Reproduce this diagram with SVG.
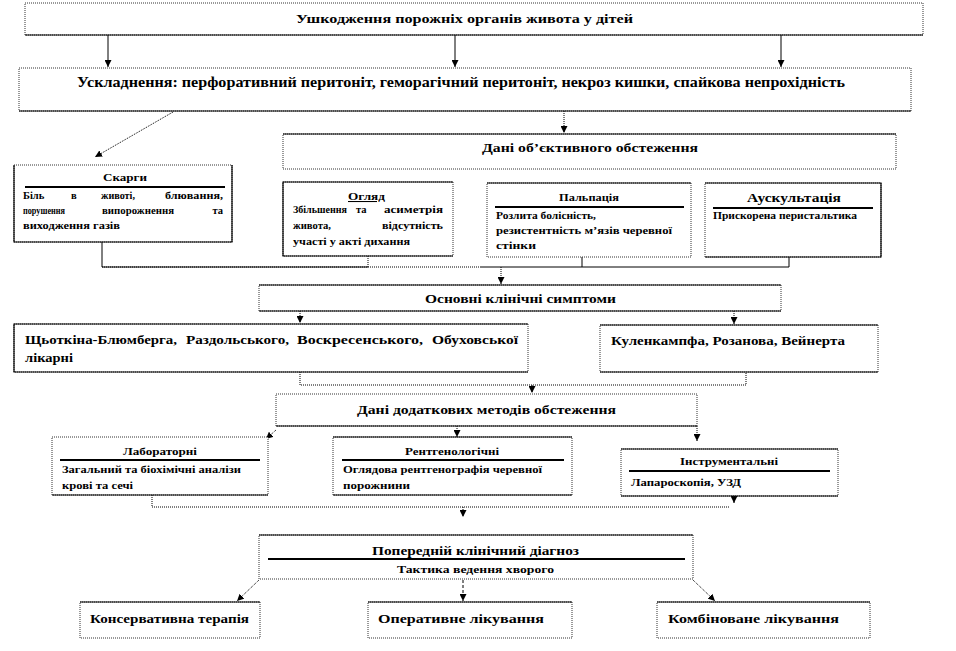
<svg xmlns="http://www.w3.org/2000/svg" width="956" height="651" viewBox="0 0 956 651">
<style>
.bx{fill:#fff;stroke:#333;stroke-width:1;stroke-dasharray:1 1}
.sd{fill:none;stroke:#000;stroke-width:1.2}
.rl{stroke:#000;stroke-width:2}
.t{font-family:"Liberation Serif","Times New Roman",serif;font-weight:bold;fill:#000}
.f14{font-size:14px}.f13{font-size:13px}.f12{font-size:12px}.f11{font-size:11px}.f10{font-size:10.5px}
.c{fill:none;stroke:#000;stroke-width:1}
.cd{fill:none;stroke:#000;stroke-width:1;stroke-dasharray:1 1}
.cs{fill:none;stroke:#000;stroke-width:1;stroke-dasharray:3 2}
</style>
<defs>
<marker id="ah" viewBox="0 0 8 8" refX="8" refY="4" markerWidth="7" markerHeight="7" markerUnits="userSpaceOnUse" orient="auto">
<path d="M0,0 L8,4 L0,8 z" fill="#000"/>
</marker>
</defs>
<rect width="956" height="651" fill="#fff"/>

<g id="connectors">
<line class="c" x1="108" y1="35" x2="108" y2="67" marker-end="url(#ah)"/>
<line class="c" x1="455" y1="35" x2="455" y2="67" marker-end="url(#ah)"/>
<line class="c" x1="781" y1="35" x2="781" y2="67" marker-end="url(#ah)"/>
<line class="cd" x1="173" y1="112" x2="95" y2="157" marker-end="url(#ah)"/>
<line class="cd" x1="564" y1="111" x2="564" y2="133" marker-end="url(#ah)"/>
<polyline class="c" points="102,242 102,267 368,267"/>
<polyline class="cd" points="102,267 480,267"/>
<polyline class="c" points="480,267 789,267 789,257"/>
<line class="cd" x1="368" y1="256" x2="368" y2="267"/>
<line class="c" x1="582" y1="257" x2="582" y2="267"/>
<line class="cd" x1="501" y1="267" x2="501" y2="284" marker-end="url(#ah)"/>
<line class="cd" x1="300" y1="311" x2="300" y2="323" marker-end="url(#ah)"/>
<line class="cd" x1="734" y1="311" x2="734" y2="324" marker-end="url(#ah)"/>
<polyline class="cd" points="300,372 300,385 746,385 746,372"/>
<line class="cd" x1="532" y1="385" x2="532" y2="393" marker-end="url(#ah)"/>
<line class="cd" x1="276" y1="430" x2="266" y2="439" marker-end="url(#ah)"/>
<line class="cd" x1="457" y1="426" x2="457" y2="437" marker-end="url(#ah)"/>
<line class="cd" x1="697" y1="426" x2="697" y2="441" marker-end="url(#ah)"/>
<polyline class="cd" points="152,495 152,507 729,507"/>
<line class="c" x1="734" y1="491" x2="734" y2="503" marker-end="url(#ah)"/>
<line class="cd" x1="463" y1="507" x2="463" y2="517" marker-end="url(#ah)"/>
<line class="cd" x1="259" y1="580" x2="237" y2="601" marker-end="url(#ah)"/>
<line class="cs" x1="463" y1="580" x2="463" y2="601" marker-end="url(#ah)"/>
<line class="cd" x1="693" y1="580" x2="715" y2="601" marker-end="url(#ah)"/>
</g>

<g id="n-top">
<rect class="bx" x="25" y="3" width="898" height="32"/>
<path class="sd" d="M25,35 H923"/>
<text class="t f13" x="296" y="23" textLength="337" lengthAdjust="spacingAndGlyphs">Ушкодження порожніх органів живота у дітей</text>
</g>

<g id="n-complications">
<rect class="bx" x="19" y="68" width="892" height="43"/>
<path class="sd" d="M19,111 H911"/>
<text class="t f14" x="77" y="87" textLength="768" lengthAdjust="spacingAndGlyphs">Ускладнення: перфоративний перитоніт, геморагічний перитоніт, некроз кишки, спайкова непрохідність</text>
</g>

<g id="n-objective">
<rect class="bx" x="283" y="134" width="613" height="35"/>
<path class="sd" d="M283,134 H896"/>
<text class="t f12" x="482" y="152" textLength="216" lengthAdjust="spacingAndGlyphs">Дані об’єктивного обстеження</text>
</g>

<g id="n-complaints">
<rect class="bx" x="14" y="165" width="218" height="77"/>
<path class="sd" d="M14,165 V242 H232 V165"/>
<text class="t f10" x="103" y="181" textLength="44" lengthAdjust="spacingAndGlyphs">Скарги</text>
<line class="rl" x1="25" y1="187" x2="225" y2="187"/>
<text class="t f10" x="23" y="199">Біль</text>
<text class="t f10" x="71" y="199">в</text>
<text class="t f10" x="101" y="199" textLength="34" lengthAdjust="spacingAndGlyphs">животі,</text>
<text class="t f10" x="165" y="199" textLength="58" lengthAdjust="spacingAndGlyphs">блювання,</text>
<text class="t f10" x="23" y="214" textLength="42" lengthAdjust="spacingAndGlyphs">порушення</text>
<text class="t f10" x="102" y="214" textLength="72" lengthAdjust="spacingAndGlyphs">випорожнення</text>
<text class="t f10" x="223" y="214" text-anchor="end">та</text>
<text class="t f10" x="23" y="229" textLength="97" lengthAdjust="spacingAndGlyphs">виходження газів</text>
</g>

<g id="n-inspection">
<rect class="bx" x="283" y="182" width="170" height="74"/>
<path class="sd" d="M453,182 H283 V256 H453"/>
<text class="t f10" x="348" y="200" textLength="37" lengthAdjust="spacingAndGlyphs" text-decoration="underline">Огляд</text>
<text class="t f10" x="293" y="213" textLength="54" lengthAdjust="spacingAndGlyphs">Збільшення</text>
<text class="t f10" x="356" y="213">та</text>
<text class="t f10" x="384" y="213" textLength="59" lengthAdjust="spacingAndGlyphs">асиметрія</text>
<text class="t f10" x="293" y="229" textLength="38" lengthAdjust="spacingAndGlyphs">живота,</text>
<text class="t f10" x="382" y="229" textLength="61" lengthAdjust="spacingAndGlyphs">відсутність</text>
<text class="t f10" x="293" y="245" textLength="117" lengthAdjust="spacingAndGlyphs">участі у акті дихання</text>
</g>

<g id="n-palpation">
<rect class="bx" x="487" y="183" width="204" height="74"/>
<path class="sd" d="M487,183 H691"/>
<text class="t f10" x="559" y="201" textLength="60" lengthAdjust="spacingAndGlyphs">Пальпація</text>
<line class="rl" x1="495" y1="207" x2="684" y2="207"/>
<text class="t f10" x="496" y="219" textLength="100" lengthAdjust="spacingAndGlyphs">Розлита болісність,</text>
<text class="t f10" x="496" y="234" textLength="176" lengthAdjust="spacingAndGlyphs">резистентність  м’язів черевної</text>
<text class="t f10" x="496" y="249" textLength="40" lengthAdjust="spacingAndGlyphs">стінки</text>
</g>

<g id="n-auscultation">
<rect class="bx" x="705" y="183" width="176" height="74"/>
<path class="sd" d="M705,183 H881 V257 H705"/>
<text class="t f12" x="747" y="202" textLength="94" lengthAdjust="spacingAndGlyphs">Аускультація</text>
<line class="rl" x1="713" y1="208" x2="873" y2="208"/>
<text class="t f10" x="713" y="219" textLength="144" lengthAdjust="spacingAndGlyphs">Прискорена перистальтика</text>
</g>

<g id="n-symptoms">
<rect class="bx" x="259" y="285" width="522" height="26"/>
<path class="sd" d="M259,285 H781 M259,311 H781"/>
<text class="t f12" x="425" y="303" textLength="191" lengthAdjust="spacingAndGlyphs">Основні клінічні симптоми</text>
</g>

<g id="n-signs1">
<rect class="bx" x="14" y="324" width="514" height="48"/>
<path class="sd" d="M528,324 H14 V372 H528"/>
<text class="t f13" x="25" y="344" textLength="152" lengthAdjust="spacingAndGlyphs">Щьоткіна-Блюмберга,</text>
<text class="t f13" x="186" y="344" textLength="103" lengthAdjust="spacingAndGlyphs">Раздольського,</text>
<text class="t f13" x="297" y="344" textLength="126" lengthAdjust="spacingAndGlyphs">Воскресенського,</text>
<text class="t f13" x="432" y="344" textLength="86" lengthAdjust="spacingAndGlyphs">Обуховської</text>
<text class="t f13" x="25" y="362" textLength="48" lengthAdjust="spacingAndGlyphs">лікарні</text>
</g>

<g id="n-signs2">
<rect class="bx" x="600" y="325" width="278" height="47"/>
<path class="sd" d="M600,325 H878 M600,372 H878"/>
<text class="t f12" x="611" y="345" textLength="234" lengthAdjust="spacingAndGlyphs">Куленкампфа, Розанова, Вейнерта</text>
</g>

<g id="n-additional">
<rect class="bx" x="276" y="394" width="421" height="32"/>
<path class="sd" d="M276,426 H697"/>
<text class="t f12" x="357" y="414" textLength="259" lengthAdjust="spacingAndGlyphs">Дані додаткових методів обстеження</text>
</g>

<g id="n-lab">
<rect class="bx" x="52" y="437" width="216" height="58"/>
<path class="sd" d="M52,495 H268"/>
<text class="t f10" x="123" y="455" textLength="74" lengthAdjust="spacingAndGlyphs">Лабораторні</text>
<line class="rl" x1="60" y1="460" x2="260" y2="460"/>
<text class="t f10" x="62" y="473" textLength="179" lengthAdjust="spacingAndGlyphs">Загальний та біохімічні  аналізи</text>
<text class="t f10" x="62" y="489" textLength="71" lengthAdjust="spacingAndGlyphs">крові та сечі</text>
</g>

<g id="n-xray">
<rect class="bx" x="333" y="437" width="239" height="58"/>
<path class="sd" d="M333,437 H572 M333,495 H572"/>
<text class="t f10" x="405" y="455" textLength="94" lengthAdjust="spacingAndGlyphs">Рентгенологічні</text>
<line class="rl" x1="342" y1="460" x2="564" y2="460"/>
<text class="t f10" x="343" y="473" textLength="199" lengthAdjust="spacingAndGlyphs">Оглядова  рентгенографія черевної</text>
<text class="t f10" x="343" y="489" textLength="67" lengthAdjust="spacingAndGlyphs">порожнини</text>
</g>

<g id="n-instrumental">
<rect class="bx" x="621" y="449" width="217" height="47"/>
<path class="sd" d="M621,449 H838 M621,496 H838"/>
<text class="t f10" x="680" y="465" textLength="98" lengthAdjust="spacingAndGlyphs">Інструментальні</text>
<line class="rl" x1="629" y1="471" x2="830" y2="471"/>
<text class="t f10" x="631" y="486" textLength="110" lengthAdjust="spacingAndGlyphs">Лапароскопія, УЗД</text>
</g>

<g id="n-diagnosis">
<rect class="bx" x="259" y="535" width="434" height="44"/>
<path class="sd" d="M259,535 H693"/>
<text class="t f12" x="372" y="555" textLength="207" lengthAdjust="spacingAndGlyphs">Попередній клінічний діагноз</text>
<line class="rl" x1="268" y1="559" x2="685" y2="559" stroke-width="2.5"/>
<text class="t f11" x="397" y="573" textLength="157" lengthAdjust="spacingAndGlyphs">Тактика ведення хворого</text>
</g>

<g id="n-conservative">
<rect class="bx" x="80" y="602" width="180" height="36"/>
<path class="sd" d="M80,602 H260"/>
<text class="t f12" x="90" y="623" textLength="159" lengthAdjust="spacingAndGlyphs">Консервативна терапія</text>
</g>

<g id="n-operative">
<rect class="bx" x="368" y="602" width="204" height="36"/>
<path class="sd" d="M368,602 H572"/>
<text class="t f12" x="378" y="623" textLength="166" lengthAdjust="spacingAndGlyphs">Оперативне лікування</text>
</g>

<g id="n-combined">
<rect class="bx" x="657" y="602" width="213" height="36"/>
<path class="sd" d="M657,602 H870"/>
<text class="t f12" x="668" y="623" textLength="171" lengthAdjust="spacingAndGlyphs">Комбіноване лікування</text>
</g>
</svg>
